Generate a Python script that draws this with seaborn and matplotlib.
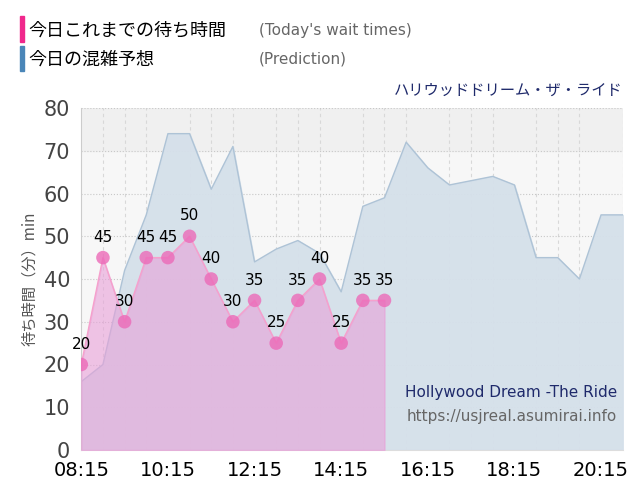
import matplotlib
matplotlib.use("Agg")
import matplotlib.pyplot as plt
import seaborn as sns
import pandas as pd
import numpy as np

wait_times = ["08:15","08:45","09:15","09:45","10:15","10:45","11:15","11:45","12:15","12:45","13:15","13:45","14:15","14:45","15:15"]
wait_values = [20,45,30,45,45,50,40,30,35,25,35,40,25,35,35]
pred_times = ["08:15","08:45","09:15","09:45","10:15","10:45","11:15","11:45","12:15","12:45","13:15","13:45","14:15","14:45","15:15","15:45","16:15","16:45","17:15","17:45","18:15","18:45","19:15","19:45","20:15","20:45"]
pred_values = [16,20,42,55,74,74,61,71,44,47,49,46,37,57,59,72,66,62,63,64,62,45,45,40,55,55]
tick_labels = ["08:15","10:15","12:15","14:15","16:15","18:15","20:15"]

def hrs(t):
    h, m = t.split(":")
    return int(h) + int(m) / 60

wdf = pd.DataFrame({"x": [hrs(t) for t in wait_times], "y": wait_values})
pdf = pd.DataFrame({"x": [hrs(t) for t in pred_times], "y": pred_values})

jp = "Noto Sans CJK JP"
fig = plt.figure(figsize=(6.4, 5), dpi=100)
ax = fig.add_axes([0.127, 0.1, 0.846, 0.684])
ax.set_facecolor("#f7f7f7")
ax.axhspan(70, 80, color="#f0f0f0", zorder=0)

ax.fill_between(pdf["x"], pdf["y"], color="#d5e0ea", alpha=0.95, zorder=1)
sns.lineplot(data=pdf, x="x", y="y", ax=ax, color="#aec3d6", lw=1, zorder=2)
ax.fill_between(wdf["x"], wdf["y"], color="#e8a0d8", alpha=0.6, zorder=3)
sns.lineplot(data=wdf, x="x", y="y", ax=ax, color="#f6a0cc", lw=1, zorder=4)
sns.scatterplot(data=wdf, x="x", y="y", ax=ax, color="#ec6ab8", s=95, alpha=0.8, edgecolor="none", zorder=5)
for x, y in zip(wdf["x"], wdf["y"]):
    ax.text(x, y + 3, str(y), ha="center", va="bottom", fontsize=11, color="black", zorder=6)

ax.set_xlim(hrs("08:15"), hrs("20:45"))
ax.set_ylim(0, 80)
ax.set_xticks([hrs(t) for t in tick_labels])
ax.set_xticklabels(tick_labels, fontsize=14)
ax.set_yticks(range(0, 81, 10))
ax.tick_params(axis="y", labelsize=15, colors="#444444", length=0, pad=8)
ax.tick_params(axis="x", length=0, pad=8)
ax.set_xticks(np.arange(hrs("08:15"), hrs("20:45") + 0.01, 0.5), minor=True)
ax.tick_params(axis="x", which="minor", length=0)
ax.grid(axis="x", which="minor", color="#d8d8d8", ls=(0, (3, 3)), lw=0.8)
ax.grid(axis="y", which="major", color="#c8c8c8", ls=":", lw=0.8)
ax.set_axisbelow(True)
for s in ["top", "right"]:
    ax.spines[s].set_visible(False)
ax.spines["left"].set_color("#cccccc")
ax.spines["bottom"].set_color("#dddddd")
ax.set_xlabel("")
ax.set_ylabel("待ち時間（分）min", fontfamily=jp, fontsize=11, color="#555555", labelpad=4)

ax.text(0.99, 0.155, "Hollywood Dream -The Ride", transform=ax.transAxes, ha="right", fontsize=11, color="#1f2a6b", zorder=7)
ax.text(0.99, 0.085, "https://usjreal.asumirai.info", transform=ax.transAxes, ha="right", fontsize=11, color="#666666", zorder=7)

fig.text(0.973, 0.81, "ハリウッドドリーム・ザ・ライド", ha="right", fontfamily=jp, fontsize=11, color="#1f2a6b")
fig.patches.append(plt.Rectangle((0.031, 0.917), 0.006, 0.05, color="#f0288c", transform=fig.transFigure))
fig.patches.append(plt.Rectangle((0.031, 0.858), 0.006, 0.05, color="#4a86b8", transform=fig.transFigure))
fig.text(0.044, 0.94, "今日これまでの待ち時間", fontfamily=jp, fontsize=13, va="center")
fig.text(0.044, 0.881, "今日の混雑予想", fontfamily=jp, fontsize=13, va="center")
fig.text(0.405, 0.94, "(Today's wait times)", fontsize=11, color="#666666", va="center")
fig.text(0.405, 0.881, "(Prediction)", fontsize=11, color="#666666", va="center")

fig.savefig("out.png", dpi=100)
